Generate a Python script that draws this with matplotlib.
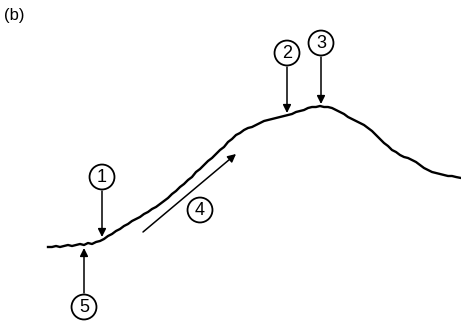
import matplotlib
matplotlib.use("Agg")
import matplotlib.pyplot as plt

trace_x = [48, 52, 56, 60, 64, 68, 72, 76, 80, 84, 88, 92, 96, 100, 104, 108, 112, 116,
           120, 124, 128, 132, 136, 140, 144, 148, 152, 156, 160, 164, 168, 172, 176, 180,
           184, 188, 192, 196, 200, 204, 208, 212, 216, 220, 224, 228, 232, 236, 240, 244,
           248, 252, 256, 260, 264, 268, 272, 276, 280, 284, 288, 292, 296, 300, 304, 308,
           312, 316, 320, 324, 328, 332, 336, 340, 344, 348, 352, 356, 360, 364, 368, 372,
           376, 380, 384, 388, 392, 396, 400, 404, 408, 412, 416, 420, 424, 428, 432, 436,
           440, 444, 448, 452, 456, 461]
trace_y = [247, 247, 246, 247, 246, 245, 246, 245, 244, 245, 243, 244, 242, 241, 239, 236,
           234, 231, 229, 226, 224, 221, 219, 217, 214, 212, 209, 207, 204, 201, 198, 194,
           191, 187, 184, 180, 177, 172, 169, 165, 161, 158, 154, 150, 147, 142, 139, 135,
           133, 130, 128, 127, 125, 123, 121, 120, 119, 118, 117, 116, 115, 114, 112, 111,
           110, 108, 107, 107, 106, 107, 107, 108, 110, 112, 114, 117, 119, 121, 123, 125,
           128, 131, 135, 139, 143, 146, 150, 152, 155, 157, 158, 160, 162, 165, 168, 170,
           172, 173, 174, 175, 176, 176, 177, 178]

# markers: label, text position, arrow tail, arrow head
labels = ["1", "2", "3", "4", "5"]
label_pos = [(102, 177), (287, 53), (321, 43), (200, 210), (84, 307)]
arrow_tail = [(102, 191), (287, 67), (321, 57), (143, 232), (84, 293)]
arrow_head = [(102, 237), (287, 113), (321, 104), (236, 154), (84, 248)]

fig = plt.figure(figsize=(4.61, 3.22), dpi=100)
ax = fig.add_axes([0, 0, 1, 1])
ax.set_xlim(0, 461)
ax.set_ylim(322, 0)
ax.axis("off")

ax.plot(trace_x, trace_y, color="black", lw=1.7)

for lab, p, t, h in zip(labels, label_pos, arrow_tail, arrow_head):
    ax.annotate("", xy=h, xytext=t,
                arrowprops=dict(arrowstyle="-|>", color="black", lw=1.1,
                                mutation_scale=12, shrinkA=0, shrinkB=0))
    ax.text(p[0], p[1], lab, ha="center", va="center", fontsize=13,
            family="Liberation Sans",
            bbox=dict(boxstyle="circle,pad=0.22", fc="white", ec="black", lw=1.3))

ax.text(4, 15, "(b)", ha="left", va="center", fontsize=12, family="Liberation Sans")

fig.savefig("out.png", dpi=100)
